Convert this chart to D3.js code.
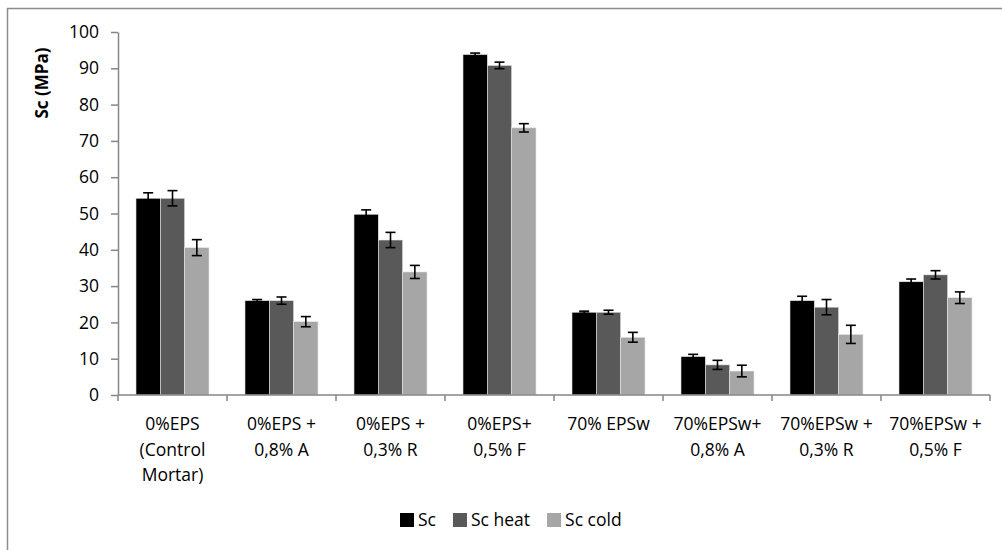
<!DOCTYPE html>
<html>
  <head>
    <meta charset="utf-8">
    <style type="text/css">
      body { margin: 0; background: #fff; }
      text {
        font-family: "Open Sans", Lato, sans-serif;
        fill: #000;
      }
      .axis path, .axis line { stroke: #868686; stroke-width: 1.5px; }
    </style>
  </head>
  <body>
    <div id="canvas"></div>
    <script type="text/javascript" src="https://cdn.jsdelivr.net/npm/d3@7/dist/d3.min.js"></script>
    <script type="text/javascript">
      // categories (line breaks as in the original axis)
      var categories = [
        "0%EPS\n(Control\nMortar)",
        "0%EPS +\n0,8% A",
        "0%EPS +\n0,3% R",
        "0%EPS+\n0,5% F",
        "70% EPSw",
        "70%EPSw+\n0,8% A",
        "70%EPSw +\n0,3% R",
        "70%EPSw +\n0,5% F"
      ];
      var seriesNames = ["Sc", "Sc heat", "Sc cold"];
      var seriesColors = ["#000000", "#595959", "#a6a6a6"];

      // values (MPa)
      var sc      = [54.2, 26.0, 49.8, 93.8, 22.8, 10.6, 26.0, 31.2];
      var scHeat  = [54.2, 26.0, 42.7, 90.8, 22.8,  8.3, 24.2, 33.1];
      var scCold  = [40.6, 20.2, 33.9, 73.6, 15.9,  6.6, 16.7, 26.8];
      // error bar half widths
      var scErr     = [1.5, 0.3, 1.2, 0.4, 0.3, 0.6, 1.2, 0.75];
      var scHeatErr = [2.1, 1.0, 2.1, 0.9, 0.55, 1.25, 2.1, 1.15];
      var scColdErr = [2.2, 1.4, 1.8, 1.15, 1.35, 1.6, 2.5, 1.6];

      var yTicks = [0, 10, 20, 30, 40, 50, 60, 70, 80, 90, 100];

      (function () {
        var values = [sc, scHeat, scCold];
        var errors = [scErr, scHeatErr, scColdErr];

        var width = 1002, height = 550;
        var plotLeft = 118, plotRight = 990, plotTop = 32, plotBottom = 395;

        var svg = d3.select('#canvas').append('svg')
          .attr('width', width)
          .attr('height', height);

        // outer chart frame
        svg.append('rect')
          .attr('x', 7.5).attr('y', 8.5)
          .attr('width', 1010).attr('height', 560)
          .attr('fill', 'none')
          .attr('stroke', '#8c8c8c')
          .attr('stroke-width', 1.5);

        var x = d3.scaleBand()
          .domain(d3.range(categories.length))
          .range([plotLeft, plotRight])
          .paddingInner(0.33)
          .paddingOuter(0.165);

        var x1 = d3.scaleBand()
          .domain(d3.range(seriesNames.length))
          .range([0, x.bandwidth()]);

        var y = d3.scaleLinear().domain([0, 100]).range([plotBottom, plotTop]);

        // bars
        var rows = [];
        categories.forEach(function (c, i) {
          seriesNames.forEach(function (s, j) {
            rows.push({ cat: i, s: j, v: values[j][i], e: errors[j][i] });
          });
        });

        svg.append('g').selectAll('rect')
          .data(rows)
          .enter().append('rect')
          .attr('x', function (d) { return x(d.cat) + x1(d.s); })
          .attr('y', function (d) { return y(d.v); })
          .attr('width', x1.bandwidth())
          .attr('height', function (d) { return y(0) - y(d.v); })
          .attr('fill', function (d) { return seriesColors[d.s]; })
          .attr('stroke', '#e8e8e8')
          .attr('stroke-width', 0.6);

        // error bars
        var eb = svg.append('g').attr('stroke', '#000').attr('stroke-width', 1.6);
        rows.forEach(function (d) {
          var cx = x(d.cat) + x1(d.s) + x1.bandwidth() / 2;
          var y0 = y(d.v - d.e), y1 = y(d.v + d.e);
          eb.append('line').attr('x1', cx).attr('x2', cx).attr('y1', y0).attr('y2', y1);
          eb.append('line').attr('x1', cx - 5).attr('x2', cx + 5).attr('y1', y0).attr('y2', y0);
          eb.append('line').attr('x1', cx - 5).attr('x2', cx + 5).attr('y1', y1).attr('y2', y1);
        });

        // y axis
        var yAxis = svg.append('g')
          .attr('class', 'axis')
          .attr('transform', 'translate(' + plotLeft + ',0)')
          .call(d3.axisLeft(y).tickValues(yTicks).tickSize(7).tickSizeOuter(0).tickPadding(12));
        yAxis.selectAll('text')
          .style('font-size', '17.5px')
          .attr('fill', '#000');

        // x axis line with ticks at category boundaries
        var xa = svg.append('g').attr('class', 'axis');
        xa.append('line')
          .attr('x1', plotLeft).attr('x2', plotRight)
          .attr('y1', y(0)).attr('y2', y(0));
        d3.range(categories.length + 1).forEach(function (i) {
          var bx = x.range()[0] + i * x.step();
          xa.append('line')
            .attr('x1', bx).attr('x2', bx)
            .attr('y1', y(0)).attr('y2', y(0) + 6);
        });

        // category labels
        var lbl = svg.append('g');
        categories.forEach(function (c, i) {
          var cx = x(i) + x.bandwidth() / 2;
          var t = lbl.append('text')
            .attr('text-anchor', 'middle')
            .attr('x', cx)
            .attr('y', 430)
            .style('font-size', '17.5px');
          c.split('\n').forEach(function (line, k) {
            t.append('tspan')
              .attr('x', cx)
              .attr('dy', k === 0 ? 0 : 25.5)
              .text(line);
          });
        });

        // y axis title
        svg.append('text')
          .attr('transform', 'translate(48,83) rotate(-90)')
          .attr('text-anchor', 'middle')
          .style('font-size', '17px')
          .style('font-weight', 'bold')
          .text('Sc (MPa)');

        // legend
        var legend = svg.append('g');
        var lx = 400;
        seriesNames.forEach(function (s, j) {
          legend.append('rect')
            .attr('x', lx).attr('y', 513)
            .attr('width', 14).attr('height', 14)
            .attr('fill', seriesColors[j]);
          var t = legend.append('text')
            .attr('x', lx + 18).attr('y', 526)
            .style('font-size', '17.5px')
            .text(s);
          lx += 18 + t.node().getComputedTextLength() + 17;
        });
      })();
    </script>
  </body>
</html>
